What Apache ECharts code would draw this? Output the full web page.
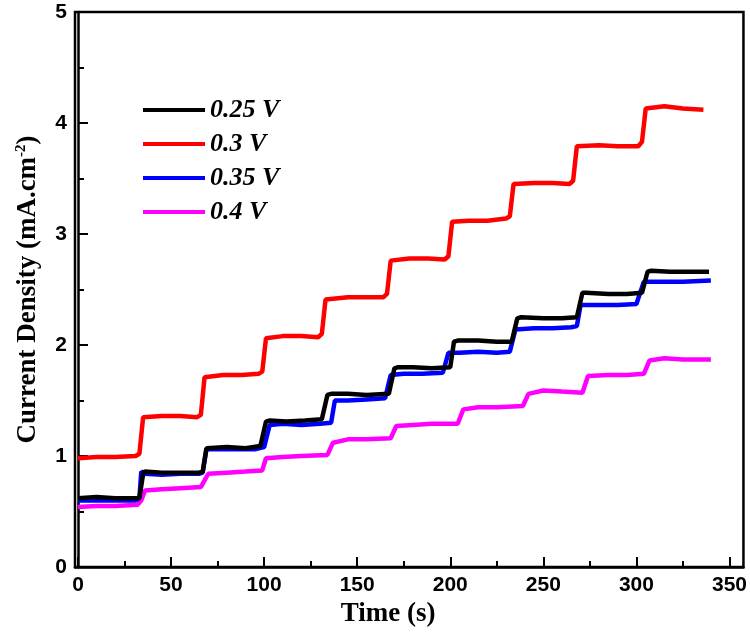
<!DOCTYPE html>
<html>
<head>
<meta charset="utf-8">
<script src="https://cdn.jsdelivr.net/npm/echarts@6/dist/echarts.min.js"></script>
<style>
html,body{margin:0;padding:0;background:#fff;}
#chart{width:750px;height:639px;}
</style>
</head>
<body>
<div id="chart"></div>
<script>
// ---- data: [time (s), current density (mA.cm-2)] ----
const seriesNames = ['0.25 V', '0.3 V', '0.35 V', '0.4 V'];
const seriesColors = ['#000000', '#ff0000', '#0000ff', '#ff00ff'];

const data025 = [[0,0.62],[10,0.63],[20,0.62],[30,0.62],[33,0.62],[35,0.84],[36,0.86],[45,0.85],[55,0.85],[65,0.85],[67,0.86],[69,1.07],[70,1.08],[80,1.08],[90,1.07],[98,1.09],[101,1.31],[103,1.32],[112,1.31],[122,1.32],[131,1.33],[134,1.55],[136,1.56],[145,1.56],[155,1.55],[167,1.56],[170,1.79],[172,1.80],[180,1.80],[190,1.79],[200,1.80],[202,2.03],[204,2.04],[215,2.04],[225,2.03],[233,2.03],[236,2.24],[238,2.25],[250,2.24],[260,2.24],[268,2.25],[271,2.47],[273,2.47],[285,2.46],[295,2.46],[303,2.47],[306,2.66],[308,2.67],[318,2.66],[328,2.66],[339,2.66]];

const data030 = [[0,0.98],[10,0.99],[20,0.99],[31,1.00],[33,1.02],[35,1.35],[45,1.36],[55,1.36],[64,1.35],[66,1.37],[68,1.71],[78,1.73],[88,1.73],[97,1.74],[99,1.76],[101,2.06],[110,2.08],[120,2.08],[129,2.07],[131,2.10],[133,2.41],[145,2.43],[155,2.43],[164,2.43],[166,2.46],[168,2.76],[178,2.78],[188,2.78],[197,2.77],[199,2.80],[201,3.11],[210,3.12],[220,3.12],[230,3.14],[232,3.16],[234,3.45],[245,3.46],[255,3.46],[264,3.45],[266,3.48],[268,3.79],[280,3.80],[290,3.79],[301,3.79],[303,3.83],[305,4.13],[315,4.15],[325,4.13],[336,4.12]];

const data035 = [[0,0.60],[10,0.60],[20,0.60],[31,0.60],[33,0.62],[34,0.86],[36,0.84],[45,0.83],[55,0.84],[65,0.84],[67,0.85],[69,1.06],[75,1.06],[85,1.06],[95,1.06],[100,1.08],[103,1.28],[110,1.29],[120,1.28],[130,1.29],[136,1.30],[138,1.50],[145,1.50],[155,1.51],[165,1.52],[168,1.73],[175,1.74],[185,1.74],[196,1.75],[199,1.93],[205,1.93],[215,1.94],[225,1.93],[232,1.94],[235,2.14],[245,2.15],[255,2.15],[265,2.16],[268,2.17],[270,2.36],[280,2.36],[290,2.36],[300,2.37],[304,2.57],[315,2.57],[325,2.57],[340,2.58]];

const data040 = [[0,0.54],[10,0.55],[20,0.55],[32,0.56],[34,0.60],[36,0.69],[45,0.70],[55,0.71],[66,0.72],[68,0.78],[70,0.84],[80,0.85],[90,0.86],[99,0.87],[101,0.98],[110,0.99],[120,1.00],[134,1.01],[137,1.12],[145,1.15],[155,1.15],[168,1.16],[171,1.27],[180,1.28],[190,1.29],[204,1.29],[207,1.42],[215,1.44],[225,1.44],[239,1.45],[242,1.56],[250,1.59],[260,1.58],[271,1.57],[274,1.72],[285,1.73],[295,1.73],[304,1.74],[307,1.86],[315,1.88],[325,1.87],[340,1.87]];

const xMajorTicks = [0, 50, 100, 150, 200, 250, 300, 350];
const xMinorTicks = [25, 75, 125, 175, 225, 275, 325];
const allData = [data025, data030, data035, data040];

const chart = echarts.init(document.getElementById('chart'));
const labelFont = {fontFamily: 'Liberation Sans', fontWeight: 'bold', fontSize: 21, color: '#000'};
const nameFont = {fontFamily: 'Liberation Serif', fontWeight: 'bold', fontSize: 27, color: '#000'};

chart.setOption({
  animation: false,
  backgroundColor: '#fff',
  grid: {left: 75, right: 5, top: 12, bottom: 72, show: true, borderColor: '#000', borderWidth: 2.5, containLabel: false},
  legend: {
    orient: 'vertical', left: 138, top: 92, itemWidth: 62, itemHeight: 4, itemGap: 8,
    icon: 'rect',
    data: seriesNames,
    textStyle: {fontFamily: 'Liberation Serif', fontWeight: 'bold', fontStyle: 'italic', fontSize: 26, color: '#000'}
  },
  xAxis: [{
    type: 'value', min: -1.6, max: 357.5,
    name: 'Time (s)', nameLocation: 'middle', nameGap: 33,
    nameTextStyle: Object.assign({}, nameFont, {padding: [0, 42, 0, 0]}),
    splitLine: {show: false},
    axisLine: {show: true, onZero: false, lineStyle: {color: '#000', width: 2.5}},
    axisTick: {show: true, inside: true, length: 10, customValues: xMajorTicks, lineStyle: {color: '#000', width: 2}},
    axisLabel: {show: true, margin: 8, customValues: xMajorTicks, ...labelFont}
  }, {
    type: 'value', min: -1.6, max: 357.5, position: 'bottom',
    splitLine: {show: false},
    axisLine: {show: false},
    axisTick: {show: true, inside: true, length: 6, customValues: xMinorTicks, lineStyle: {color: '#000', width: 2}},
    axisLabel: {show: false}
  }],
  yAxis: {
    type: 'value', min: 0, max: 5, interval: 1,
    name: 'Current Density (mA.cm{sup|-2})', nameLocation: 'middle', nameGap: 32,
    nameTextStyle: Object.assign({}, nameFont, {rich: {sup: {fontFamily: 'Liberation Serif', fontWeight: 'bold', fontSize: 15, color: '#000', verticalAlign: 'top', padding: [0, 0, 14, 0]}}}),
    splitLine: {show: false},
    axisLine: {show: true, lineStyle: {color: '#000', width: 2.5}},
    axisTick: {show: true, inside: true, length: 10, lineStyle: {color: '#000', width: 2}},
    minorTick: {show: true, splitNumber: 2, length: 6, lineStyle: {color: '#000', width: 2}},
    axisLabel: {margin: 8, ...labelFont}
  },
  series: seriesNames.map((n, i) => ({
    name: n, type: 'line', data: allData[i], xAxisIndex: 0,
    showSymbol: false, symbol: 'none',
    lineStyle: {color: seriesColors[i], width: 4.5},
    itemStyle: {color: seriesColors[i]},
    z: 10 - i
  }))
});
</script>
</body>
</html>
